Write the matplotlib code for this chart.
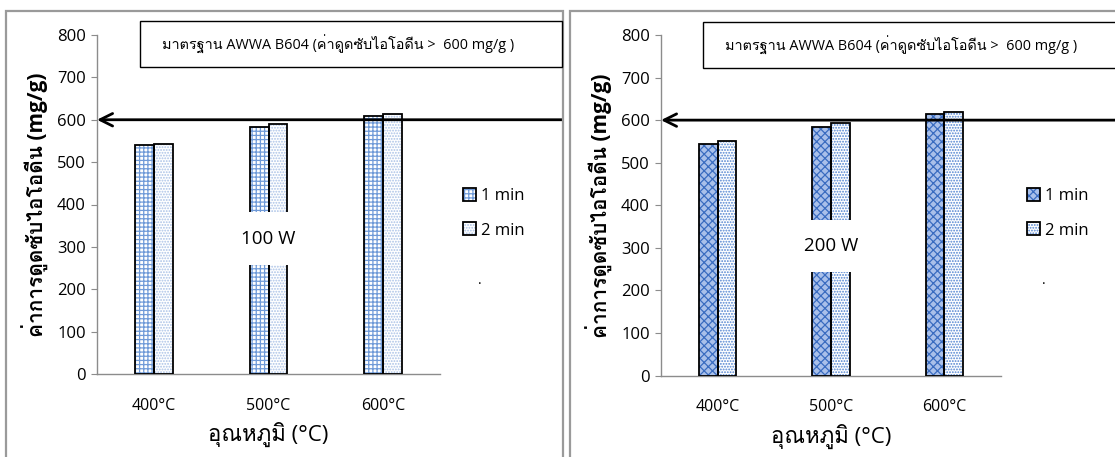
import matplotlib
matplotlib.use("Agg")
import matplotlib.pyplot as plt
from matplotlib import font_manager
from matplotlib.ft2font import FT2Font
from matplotlib.patches import Rectangle
import numpy as np

# ---------------- data ----------------
temps = ["400°C", "500°C", "600°C"]
series_labels = ["1 min", "2 min"]
w100_1min = [540, 584, 609]
w100_2min = [543, 590, 613]
w200_1min = [543, 585, 615]
w200_2min = [552, 594, 620]
standard_value = 600
power_labels = ["100 W", "200 W"]
yticks = [0, 100, 200, 300, 400, 500, 600, 700, 800]
box_text = "มาตรฐาน AWWA B604 (ค่าดูดซับไอโอดีน >  600 mg/g )"
ylabel = "ค่าการดูดซับไอโอดีน (mg/g)"
xlabel = "อุณหภูมิ (°C)"

# ---------------- fonts ----------------
def thai_fonts():
    names = []
    for f in font_manager.fontManager.ttflist:
        try:
            cm = FT2Font(f.fname).get_charmap()
        except Exception:
            continue
        if 0x0E04 in cm and 0x0E39 in cm and f.name not in names:
            names.append(f.name)
    return names

available = {f.name for f in font_manager.fontManager.ttflist}
narrow = [n for n in ["Liberation Sans Narrow", "Open Sans", "Noto Sans"] if n in available]
thai = thai_fonts()
fam = narrow[:1] + thai + ["DejaVu Sans"]
plt.rcParams["font.family"] = fam
plt.rcParams["hatch.linewidth"] = 0.9

W, H = 1115, 457
fig = plt.figure(figsize=(W / 100, H / 100), dpi=100)
fig.patch.set_facecolor("white")
renderer = fig.canvas.get_renderer()

def fx(px):
    return px / W

def fy(py):
    return 1 - py / H

def fit_width(txt, target_px):
    w = txt.get_window_extent(renderer=renderer).width
    if w > 0:
        txt.set_fontsize(txt.get_fontsize() * target_px / w)

# panel frames
for x0, x1 in [(6, 563), (570, 1125)]:
    fig.patches.append(Rectangle((fx(x0), fy(470)), fx(x1 - x0), (470 - 11) / H,
                                 transform=fig.transFigure, facecolor="none",
                                 edgecolor="#9a9a9a", lw=1.6, zorder=0))

panels = [
    dict(axpx=(97, 440, 35, 374), v1=w100_1min, v2=w100_2min, power=power_labels[0],
         h1=dict(hatch="++++", color="#6f9ad8", face="white"),
         h2=dict(hatch="......", color="#a9c1e6", face="white"),
         box=(140, 562, 21, 67), textx=162, legx=463, arrow_end=562,
         gap=(257, 382)),
    dict(axpx=(661, 1001, 35, 375.5), v1=w200_1min, v2=w200_2min, power=power_labels[1],
         h1=dict(hatch="xxxx", color="#3a6cc0", face="#a9c0ea"),
         h2=dict(hatch="......", color="#4f82d0", face="white"),
         box=(703, 1125, 22, 68), textx=725, legx=1027, arrow_end=1125,
         gap=(243, 365)),
]

x = np.arange(len(temps))
bw = 0.165

for p in panels:
    l, r, t, b = p["axpx"]
    ax = fig.add_axes([fx(l), fy(b), fx(r - l), (b - t) / H])
    ax.set_xlim(-0.5, len(temps) - 0.5)
    ax.set_ylim(0, 800)
    ax.patch.set_alpha(0)

    handles = []
    for off, vals, st in [(-bw / 2, p["v1"], p["h1"]), (bw / 2, p["v2"], p["h2"])]:
        hb = ax.bar(x + off, vals, bw, facecolor=st["face"], edgecolor=st["color"],
                    hatch=st["hatch"], lw=0, zorder=2)
        ob = ax.bar(x + off, vals, bw, facecolor="none", edgecolor="black", lw=1.3, zorder=3)
        handles.append((hb[0], ob[0]))

    # white gap with power label
    g0, g1 = p["gap"]
    ax.add_patch(Rectangle((1 - 0.3, g0), 0.6, g1 - g0, facecolor="white",
                           edgecolor="none", zorder=4))
    ax.text(1, (g0 + g1) / 2, p["power"], ha="center", va="center", fontsize=13.5,
            zorder=5)

    # axes styling
    for s in ["top", "right"]:
        ax.spines[s].set_visible(False)
    for s in ["left", "bottom"]:
        ax.spines[s].set_color("#8c8c8c")
        ax.spines[s].set_linewidth(1.0)
    ax.set_yticks(yticks)
    ax.set_xticks(x)
    ax.set_xticklabels(temps)
    ax.tick_params(axis="y", length=4, color="#8c8c8c", labelsize=12, pad=4)
    ax.tick_params(axis="x", length=0, labelsize=11.5, pad=17)
    ax.set_ylabel(ylabel, fontsize=15, fontweight="bold", labelpad=6)
    ax.set_xlabel(xlabel, fontsize=16, labelpad=6)

    # standard line with arrowhead at the y-axis
    xend = (p["arrow_end"] - l) / (r - l)
    ax.annotate("", xy=(0, standard_value), xycoords=("axes fraction", "data"),
                xytext=(xend, standard_value), textcoords=("axes fraction", "data"),
                arrowprops=dict(arrowstyle="->,head_length=0.9,head_width=0.45",
                                lw=2.0, color="black", shrinkA=0, shrinkB=0),
                annotation_clip=False, zorder=6)

    # standard text box
    bx0, bx1, by0, by1 = p["box"]
    fig.patches.append(Rectangle((fx(bx0), fy(by1)), fx(bx1 - bx0), (by1 - by0) / H,
                                 transform=fig.transFigure, facecolor="white",
                                 edgecolor="black", lw=1.0, zorder=1))
    bt = fig.text(fx(p["textx"]), fy((by0 + by1) / 2), box_text, ha="left", va="center",
                  fontsize=12.5)
    fit_width(bt, 352)

    # legend
    fig.legend(handles, series_labels, loc="upper left",
               bbox_to_anchor=(fx(p["legx"]), fy(188)), frameon=False,
               fontsize=12, handlelength=0.8, handleheight=0.8,
               handletextpad=0.3, labelspacing=1.1, borderpad=0, borderaxespad=0)
    fig.text(fx(p["legx"] + 17), fy(280), ".", fontsize=10, ha="center", va="center")

fig.savefig("out.png", dpi=100)
